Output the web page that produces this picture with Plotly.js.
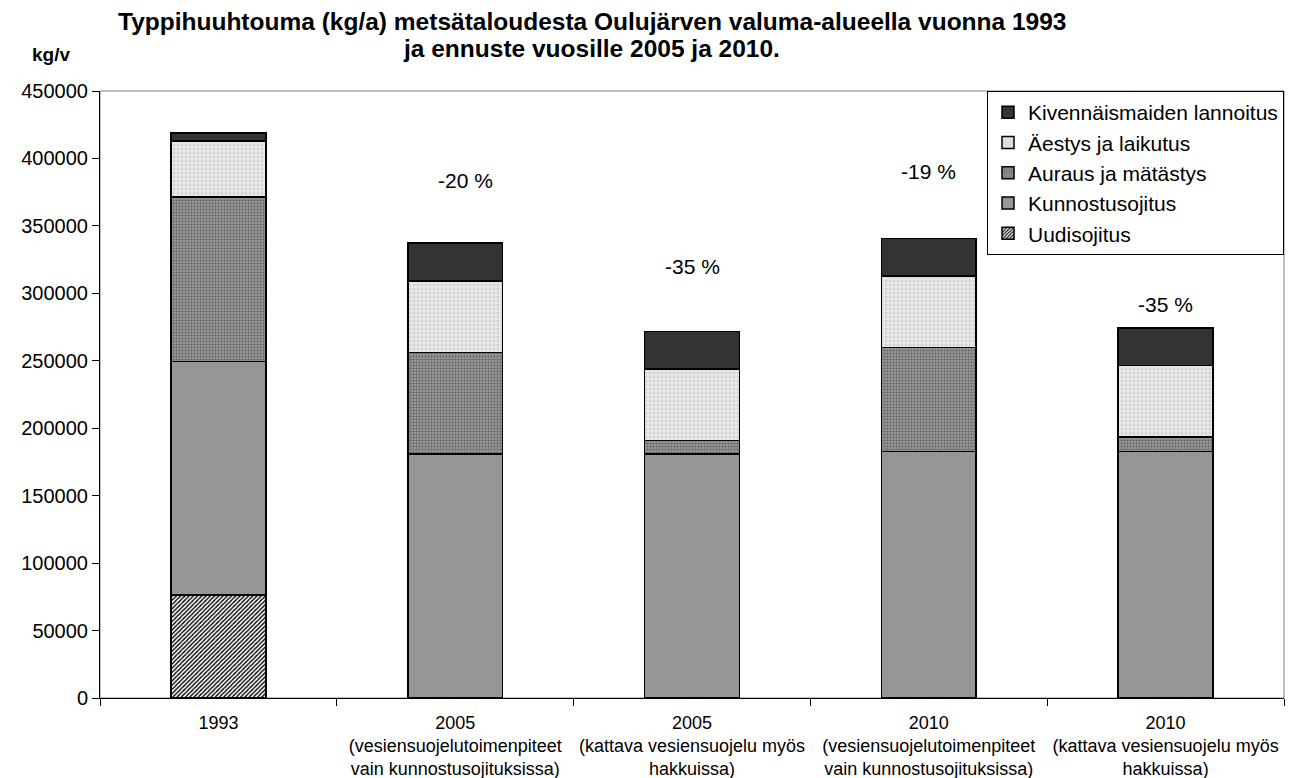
<!DOCTYPE html>
<html>
<head>
<meta charset="utf-8">
<script src="https://cdn.plot.ly/plotly-3.0.1.min.js"></script>
<style>html,body{margin:0;padding:0;background:#fff;}#chart{width:1294px;height:778px;}</style>
</head>
<body>
<div id="chart"></div>
<script>
const categories = [
  '1993',
  '2005<br>(vesiensuojelutoimenpiteet<br>vain kunnostusojituksissa)',
  '2005<br>(kattava vesiensuojelu myös<br>hakkuissa)',
  '2010<br>(vesiensuojelutoimenpiteet<br>vain kunnostusojituksissa)',
  '2010<br>(kattava vesiensuojelu myös<br>hakkuissa)'
];
const uudisojitus = [76400, null, null, null, null];
const kunnostusojitus = [173100, 181000, 181000, 182700, 182700];
const aurausMatastys = [121900, 75200, 9900, 77200, 10700];
const aestysLaikutus = [41600, 53100, 53100, 53100, 53100];
const kivennaisLannoitus = [5900, 28000, 27700, 27500, 27700];
const changeLabels = ['-20 %', '-35 %', '-19 %', '-35 %'];
const changeLabelY = [384000, 320000, 390000, 291500];
const titleLines = [
  'Typpihuuhtouma (kg/a) metsätaloudesta Oulujärven valuma-alueella vuonna 1993',
  'ja ennuste vuosille 2005 ja 2010.'
];

const FONT = 'Liberation Sans, Arial, sans-serif';
const outline = {color: '#000', width: 1.5};

const traces = [
  {name: 'Uudisojitus', y: uudisojitus,
   marker: {color: '#ffffff', line: outline, pattern: {shape: '/', fgcolor: '#000', bgcolor: '#ffffff', size: 3, solidity: 0.45}}},
  {name: 'Kunnostusojitus', y: kunnostusojitus,
   marker: {color: '#969696', line: outline}},
  {name: 'Auraus ja mätästys', y: aurausMatastys,
   marker: {color: '#969696', line: outline, pattern: {shape: '.', fgcolor: '#6a6a6a', bgcolor: '#a4a4a4', size: 3, solidity: 0.5}}},
  {name: 'Äestys ja laikutus', y: aestysLaikutus,
   marker: {color: '#e2e2e2', line: outline, pattern: {shape: '.', fgcolor: '#d2d2d2', bgcolor: '#e6e6e6', size: 4, solidity: 0.3}}},
  {name: 'Kivennäismaiden lannoitus', y: kivennaisLannoitus,
   marker: {color: '#333333', line: outline}}
].map(t => Object.assign({type: 'bar', x: categories, width: 0.4, hoverinfo: 'skip'}, t));

const annotations = changeLabels.map((txt, i) => ({
  x: categories[i + 1], y: changeLabelY[i], xref: 'x', yref: 'y',
  xshift: i === 0 ? 10 : 0,
  text: txt, showarrow: false, font: {family: FONT, size: 21, color: '#000'}
}));
annotations.push({
  xref: 'paper', yref: 'paper', x: -0.041, y: 1.060, xanchor: 'center', yanchor: 'middle',
  text: '<b>kg/v</b>', showarrow: false, font: {family: FONT, size: 19, color: '#000'}
});
annotations.push({
  xref: 'paper', yref: 'paper', x: 0.4155, y: 1.1137, xanchor: 'center', yanchor: 'middle',
  text: '<b>' + titleLines[0] + '</b>', showarrow: false, font: {family: FONT, size: 24.5, color: '#000'}
});
annotations.push({
  xref: 'paper', yref: 'paper', x: 0.4155, y: 1.0708, xanchor: 'center', yanchor: 'middle',
  text: '<b>' + titleLines[1] + '</b>', showarrow: false, font: {family: FONT, size: 24.5, color: '#000'}
});

const layout = {
  width: 1294, height: 778,
  margin: {l: 100, r: 10, t: 91, b: 80},
  paper_bgcolor: '#fff', plot_bgcolor: '#fff',
  barmode: 'stack',
  bargap: 0.6,
  font: {family: FONT, color: '#000'},
  xaxis: {
    type: 'category', showline: true, linecolor: '#000', linewidth: 1,
    ticks: 'outside', tickson: 'boundaries', ticklen: 7, tickcolor: '#000',
    ticklabelstandoff: 8,
    tickfont: {family: FONT, size: 18, color: '#000'},
    showgrid: false, zeroline: false, fixedrange: true
  },
  yaxis: {
    range: [0, 450000], dtick: 50000, tickformat: 'd',
    showline: true, linecolor: '#000', linewidth: 1,
    ticks: 'outside', ticklen: 7, tickcolor: '#000',
    tickfont: {family: FONT, size: 20, color: '#000'},
    showgrid: false, zeroline: false, fixedrange: true
  },
  legend: {
    x: 1, xanchor: 'right', y: 1.0, yanchor: 'top',
    traceorder: 'reversed',
    bgcolor: '#fff', bordercolor: '#000', borderwidth: 1,
    font: {family: FONT, size: 21, color: '#000'},
    itemclick: false, itemdoubleclick: false,
    tracegroupgap: 0
  },
  shapes: [{
    type: 'rect', xref: 'paper', yref: 'paper', x0: 0, x1: 1, y0: 0, y1: 1,
    line: {color: '#808080', width: 1}, layer: 'below'
  }],
  annotations: annotations,
  showlegend: true
};

Plotly.newPlot('chart', traces, layout, {displayModeBar: false, staticPlot: true});
</script>
</body>
</html>
